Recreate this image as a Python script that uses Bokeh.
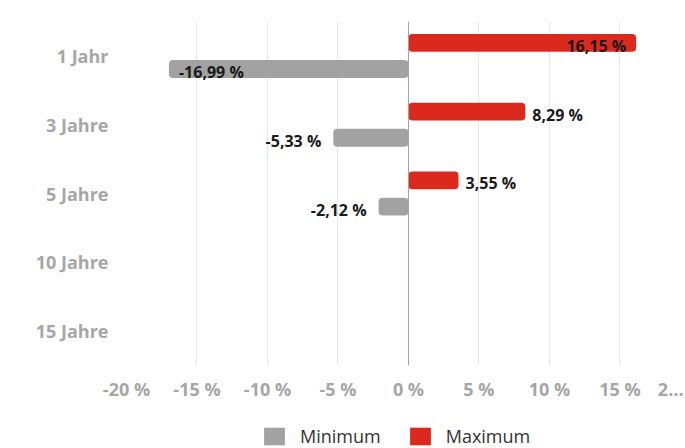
from bokeh.plotting import figure
from bokeh.layouts import column
from bokeh.models import ColumnDataSource, FixedTicker, Range1d, Span, Legend, LegendItem
from bokeh.core.properties import value
from bokeh.embed import file_html
from bokeh.resources import INLINE

categories = ["1 Jahr", "3 Jahre", "5 Jahre", "10 Jahre", "15 Jahre"]
maximum = [16.15, 8.29, 3.55, None, None]
minimum = [-16.99, -5.33, -2.12, None, None]
x_ticks = [-20, -15, -10, -5, 0, 5, 10, 15]
x_tick_labels = ["-20 %", "-15 %", "-10 %", "-5 %", "0 %", "5 %", "10 %", "15 %"]
overflow_tick = 18.6
overflow_label = "2…"
series_names = ["Minimum", "Maximum"]

RED = "#dc291e"
GRAY = "#a2a2a2"
FONT = "Open Sans"

def fmt(v):
    return f"{v:.2f}".replace(".", ",") + " %"

p = figure(width=685, height=410, output_backend="svg", toolbar_location=None,
           x_range=Range1d(-20, 19.65), y_range=Range1d(4.5, -0.5),
           min_border_left=126, min_border_right=0, min_border_top=21,
           min_border_bottom=45)
p.outline_line_color = None
p.background_fill_color = "white"

idx = list(range(len(categories)))
mx_y = [i - 0.19 for i, v in zip(idx, maximum) if v is not None]
mx_v = [v for v in maximum if v is not None]
mn_y = [i + 0.19 for i, v in zip(idx, minimum) if v is not None]
mn_v = [v for v in minimum if v is not None]

src_max = ColumnDataSource(dict(y=mx_y, right=mx_v))
src_min = ColumnDataSource(dict(y=mn_y, right=mn_v))

p.hbar(y="y", left=0, right="right", height=0.26, source=src_min,
       fill_color=GRAY, line_color=None, border_radius=4)
p.hbar(y="y", left=0, right="right", height=0.26, source=src_max,
       fill_color=RED, line_color=None, border_radius=4)

def label_set(ys, vs):
    out = dict(in_pos=dict(x=[], y=[], t=[]), in_neg=dict(x=[], y=[], t=[]),
               out_pos=dict(x=[], y=[], t=[]), out_neg=dict(x=[], y=[], t=[]))
    for y, v in zip(ys, vs):
        key = ("in_" if abs(v) > 12 else "out_") + ("pos" if v >= 0 else "neg")
        out[key]["x"].append(v); out[key]["y"].append(y); out[key]["t"].append(fmt(v))
    return out

cfg = {"in_pos": ("right", -10), "in_neg": ("left", 10),
       "out_pos": ("left", 7), "out_neg": ("right", -12)}
for ys, vs in ((mx_y, mx_v), (mn_y, mn_v)):
    groups = label_set(ys, vs)
    for key, d in groups.items():
        if not d["x"]:
            continue
        align, off = cfg[key]
        p.text(x=d["x"], y=d["y"], text=d["t"], text_align=align, text_baseline="middle",
               x_offset=off, y_offset=3, text_font=value(FONT), text_font_style="bold",
               text_font_size="16px", text_color="#1a1a1a")

zero = Span(location=0, dimension="height", line_color="#a0a0a0", line_width=1)
p.add_layout(zero)

p.xaxis.ticker = FixedTicker(ticks=x_ticks + [overflow_tick])
p.xaxis.major_label_overrides = {**{t: l for t, l in zip(x_ticks, x_tick_labels)},
                                 overflow_tick: overflow_label}
p.xgrid.ticker = FixedTicker(ticks=x_ticks)
p.xgrid.grid_line_color = "#e6e6e6"
p.ygrid.grid_line_color = None
p.yaxis.ticker = FixedTicker(ticks=idx)
p.yaxis.major_label_overrides = {i: c for i, c in zip(idx, categories)}

for ax in (p.xaxis, p.yaxis):
    ax.axis_line_color = None
    ax.major_tick_line_color = None
    ax.minor_tick_line_color = None
    ax.major_tick_out = 0
    ax.major_tick_in = 0
    ax.major_label_text_font = FONT
    ax.major_label_text_font_style = "bold"
    ax.major_label_text_font_size = "18px"
    ax.major_label_text_color = "#a6a6a6"
p.yaxis.major_label_standoff = 18
p.xaxis.major_label_standoff = 11

# legend strip below the chart (its frame is aligned with the chart's frame)
lg = figure(width=685, height=38, output_backend="svg", toolbar_location=None,
            x_range=Range1d(0, 1), y_range=Range1d(0, 1),
            x_axis_type=None, y_axis_type=None,
            min_border_left=126, min_border_right=0, min_border_top=0, min_border_bottom=0)
lg.outline_line_color = None
lg.xgrid.grid_line_color = None
lg.ygrid.grid_line_color = None
# swatch renderers with zero-size bars; only their legend glyphs show
swatch = dict(y=[0.5], right=[0.0])
l_min = lg.hbar(y="y", left=0, right="right", height=0.0,
                source=ColumnDataSource(dict(swatch)),
                fill_color=GRAY, line_color=None)
l_max = lg.hbar(y="y", left=0, right="right", height=0.0,
                source=ColumnDataSource(dict(swatch)),
                fill_color=RED, line_color=None)
legend = Legend(items=[LegendItem(label=series_names[0], renderers=[l_min]),
                       LegendItem(label=series_names[1], renderers=[l_max])],
                orientation="horizontal", location=(135, 0),
                glyph_width=26, glyph_height=22, label_standoff=13, spacing=26,
                label_text_font=FONT, label_text_font_size="18px",
                label_text_color="#333333", border_line_color=None,
                background_fill_alpha=0, margin=0, padding=0)
lg.add_layout(legend)

open("out.html", "w").write(file_html(column(p, lg, spacing=0), INLINE))
